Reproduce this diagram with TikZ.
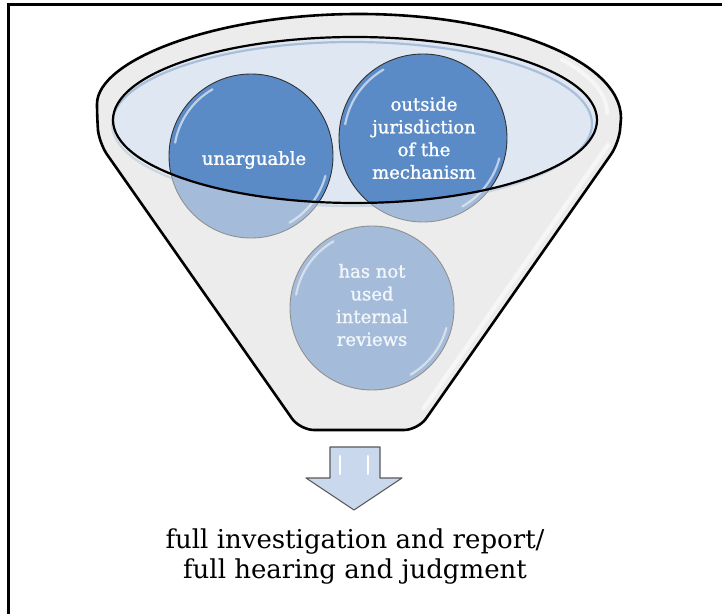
\documentclass[tikz,border=0pt]{standalone}
\usepackage{fontspec}
\newfontfamily\cfont{DejaVu Serif}
\newfontfamily\cfontb[FakeBold=1.3]{DejaVu Serif}
\definecolor{funnelgrey}{HTML}{EBEBEB}
\definecolor{rimblue}{HTML}{DFE7F2}
\definecolor{ringblue}{HTML}{A9BED9}
\definecolor{circblue}{HTML}{5B8BC6}
\definecolor{arrowfill}{HTML}{C9D8EC}
\definecolor{overlaygrey}{HTML}{EEEEEE}
\begin{document}
\begin{tikzpicture}[x=1pt,y=1pt,
  ball/.style={circle, fill=circblue, draw=black!80, line width=0.9pt, inner sep=0pt},
  balltext/.style={text=white, font=\cfontb\fontsize{18}{22.7}\selectfont, align=center, inner sep=0pt},
  gleam/.style={white, line width=2.2pt, opacity=0.6, line cap=round},
  outtext/.style={font=\cfont\fontsize{26}{30}\selectfont, inner sep=0pt, anchor=base}]
\useasboundingbox (0,0) rectangle (722,613);
\fill[white] (0,0) rectangle (722,613);
\draw[line width=3pt] (8,-20) rectangle (745,608);

% funnel body
\fill[funnelgrey] (97,495) arc[start angle=180,end angle=0,x radius=262,y radius=104]
  [rounded corners=14] -- (619,470) -- (418,183) -- (300,183) -- (99,470) -- cycle;
% white highlight on the right side of the funnel
\draw[white, line width=4.5pt, line cap=round] (608,468) -- (424,205);
\draw[white, line width=4pt, line cap=round] (607,500) arc[start angle=0,end angle=35,x radius=250,y radius=93];
% opening
\fill[rimblue] (355,493) ellipse [x radius=242, y radius=83];
\draw[ringblue, line width=2.2pt] (352,489) ellipse [x radius=240, y radius=82];

% balls
\node[ball, minimum size=164pt] (b1) at (251,457) {};
\node[ball, minimum size=168pt] (b2) at (423,475) {};
\node[ball, minimum size=164pt] (b3) at (372,305) {};
\foreach \c/\r in {b1/82, b2/84, b3/82}{
  \draw[gleam] (\c.center) ++(120:\r-5) arc[start angle=120, end angle=170, radius=\r-5];
  \draw[gleam] (\c.center) ++(-15:\r-5) arc[start angle=-15, end angle=-60, radius=\r-5];
}

% front of funnel (veils the balls outside the opening)
\fill[overlaygrey, opacity=0.5, even odd rule]
  (97,495) arc[start angle=180,end angle=0,x radius=262,y radius=104]
  [rounded corners=14] -- (619,470) -- (418,183) -- (300,183) -- (99,470) -- cycle
  [sharp corners] (597,493) arc[start angle=0,end angle=360,x radius=242,y radius=83];

% outlines
\draw[line width=2.2pt] (355,493) ellipse [x radius=242, y radius=83];
\draw[line width=2.6pt] (97,495) arc[start angle=180,end angle=0,x radius=262,y radius=104]
  [rounded corners=14] -- (619,470) -- (418,183) -- (300,183) -- (99,470) -- cycle;

% texts in balls
\node[balltext] (t1) at (254,453) {unarguable};
\node[balltext] (t2) at (424,475) {outside\\jurisdiction\\of the\\mechanism};
\node[balltext, text=white!92!circblue] (t3) at (372,308) {has not\\used\\internal\\reviews};

% arrow
\draw[fill=arrowfill, draw=black!65, line width=1.1pt, line join=round]
  (330,166) -- (380,166) -- (380,135) -- (402,135) -- (354,103) -- (306,135) -- (330,135) -- cycle;
\node[inner sep=0pt] (arr) at (355,135) {};
\draw[white, line width=2pt, line cap=round] (340,157) -- (340,139);
\draw[white, line width=2pt, line cap=round] (368,157) -- (368,139);

% result
\node[outtext] (r1) at (355,65) {full investigation and report/};
\node[outtext] (r2) at (355,35) {full hearing and judgment};
\end{tikzpicture}
\end{document}
